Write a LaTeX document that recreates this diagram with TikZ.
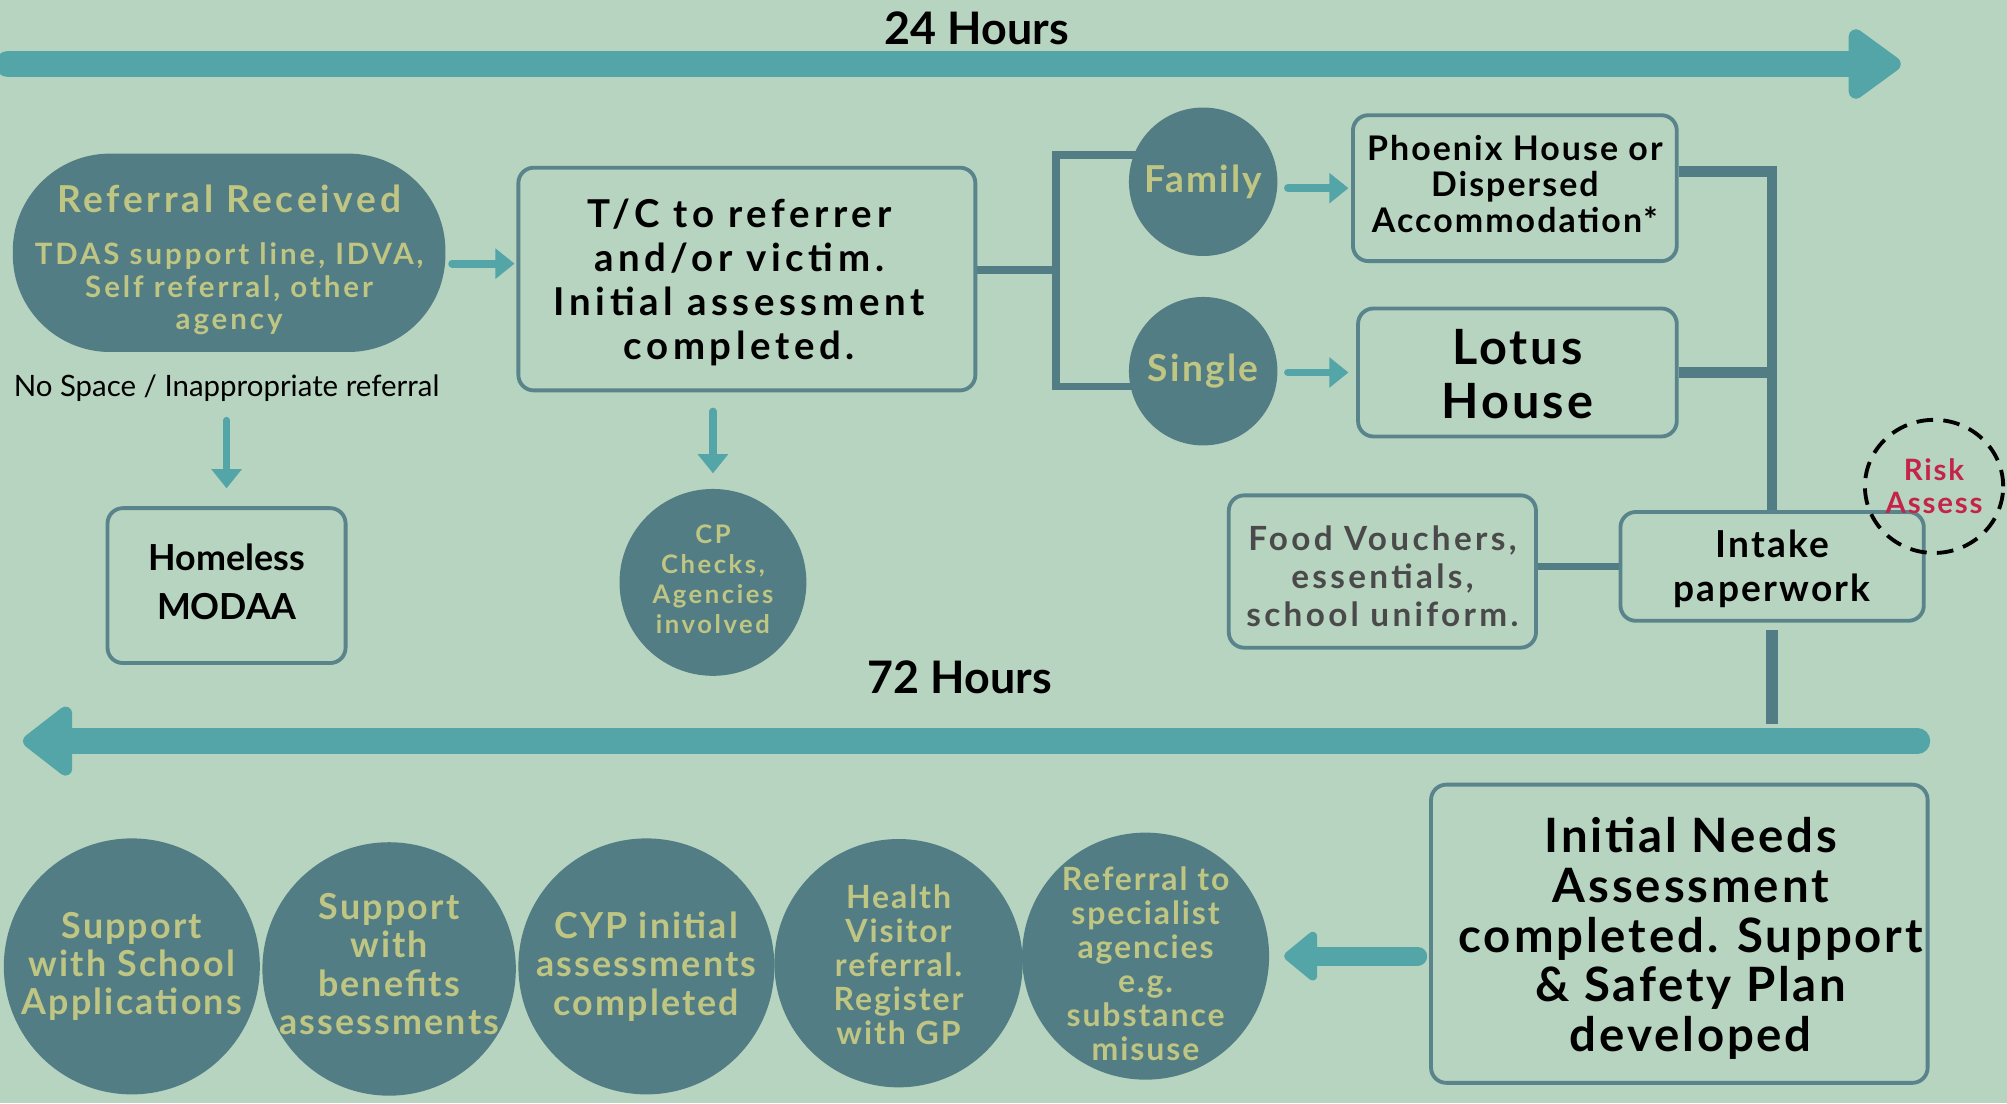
\documentclass[tikz,border=0pt]{standalone}
\usepackage{fontspec}
\setmainfont{Lato}
\newfontfamily\lsa[LetterSpace=6]{Lato}
\newfontfamily\lsb[LetterSpace=10]{Lato}
\newfontfamily\lsc[LetterSpace=12]{Lato}
\usetikzlibrary{arrows.meta,shapes.geometric,calc}
\definecolor{bgc}{HTML}{B6D4BF}
\definecolor{dteal}{HTML}{537D84}
\definecolor{khaki}{HTML}{BFC582}
\definecolor{lteal}{HTML}{54A5A7}
\definecolor{boxc}{HTML}{5A848C}
\definecolor{riskc}{HTML}{C4244A}
\definecolor{greyt}{HTML}{4A4A4A}
% push a block of lines down (strut on first line) or up (depth on last line)
\newcommand\dnby[1]{\rule{0pt}{\dimexpr\fontcharht\font`\l+#1\relax}}
\newcommand\upby[1]{\rule[-#1]{0pt}{0pt}}
% shift a centred line sideways by half the argument
\newcommand\xs[1]{\hspace*{#1}}
\pgfdeclarelayer{background}
\pgfsetlayers{background,main}
\begin{document}
\begin{tikzpicture}[x=1pt,y=-1pt,
  box/.style={draw=boxc, line width=3pt, rounded corners=12pt, align=center, inner sep=0pt, text=black},
  dc/.style={circle, fill=dteal, inner sep=-25pt, align=center, text=khaki},
  conn/.style={draw=dteal, line width=6pt},
  tarr/.style={draw=lteal, line width=6pt, line cap=round, -{Triangle[length=15pt,width=23pt]}},
  bigarr/.style={draw=lteal, line cap=round},
  hours/.style={font=\bfseries\fontsize{35}{40}\selectfont, inner sep=0pt}
]
\useasboundingbox (0,0) rectangle (1568,862);
\begin{pgfonlayer}{background}
\fill[bgc] (0,0) rectangle (1568,862);
\end{pgfonlayer}

% timelines
\coordinate (t1) at (6,50);
\coordinate (t2) at (1485,50);
\draw[bigarr, line width=20pt, -{Triangle[length=45pt,width=62pt,round]}] (t1) -- (t2);
\node[hours] (h24) at (763,22) {24 Hours};

\coordinate (b1) at (1498,579);
\coordinate (b2) at (18,579);
\draw[bigarr, line width=20pt, -{Triangle[length=42pt,width=62pt,round]}] (b1) -- (b2);
\node[hours] (h72) at (750,529) {72 Hours};

% first row
\node[rectangle, rounded corners=76pt, fill=dteal, minimum width=338pt, minimum height=155pt,
      align=center, text=khaki, inner sep=0pt,
      font=\lsb\bfseries\fontsize{23}{25.5}\selectfont] (ref) at (179,197.5)
  {{\fontsize{29}{30}\selectfont\dnby{12pt}Referral Received}\\[15pt]TDAS support line, IDVA,\\Self referral, other\\agency};

\node[box, minimum width=357pt, minimum height=174pt,
      font=\lsc\bfseries\fontsize{30}{34.4}\selectfont] (tc) at (583.5,218)
  {\dnby{6pt}\xs{-12pt}T/C to referrer\\\xs{-12pt}and/or victim.\\\xs{-12pt}Initial assessment\\\xs{-12pt}completed.};

\node[inner sep=0pt, font=\fontsize{23}{25}\selectfont] (nosp) at (177,303)
  {No Space / Inappropriate referral};

\node[box, minimum width=186pt, minimum height=121pt,
      font=\bfseries\fontsize{28}{38}\selectfont] (home) at (177,457.5)
  {Homeless\\MODAA\upby{6pt}};

\node[dc, minimum size=146pt, font=\lsb\bfseries\fontsize{20}{23.5}\selectfont] (cp) at (557,455)
  {CP\\Checks,\\Agencies\\involved\upby{5pt}};

\node[dc, minimum size=116pt, font=\lsa\bfseries\fontsize{29}{30}\selectfont] (fam) at (940,142) {Family\upby{2pt}};
\node[dc, minimum size=116pt, font=\lsa\bfseries\fontsize{29}{30}\selectfont] (sing) at (940,290) {Single};

\node[box, minimum width=253pt, minimum height=114pt,
      font=\lsa\bfseries\fontsize{26.5}{28}\selectfont] (ph) at (1183.5,147)
  {Phoenix House or\\Dispersed\\Accommodation*\upby{7pt}};

\node[box, minimum width=249pt, minimum height=100pt,
      font=\lsa\bfseries\fontsize{38}{42}\selectfont] (lot) at (1185.5,291)
  {\dnby{3pt}Lotus\\House};

\node[box, minimum width=240pt, minimum height=119pt, text=greyt,
      font=\lsb\bfseries\fontsize{26}{30}\selectfont] (food) at (1080,446.5)
  {\dnby{8pt}Food Vouchers,\\essentials,\\school uniform.};

\node[box, minimum width=237pt, minimum height=85pt,
      font=\lsa\bfseries\fontsize{29}{34}\selectfont] (intake) at (1384.5,442.5)
  {\dnby{4pt}Intake\\paperwork};

\node[ellipse, draw=black, dashed, dash pattern=on 13pt off 8pt, line width=3pt,
      minimum width=108pt, minimum height=104pt, inner sep=-14pt, align=center, text=riskc,
      font=\lsa\bfseries\fontsize{23}{26}\selectfont] (risk) at (1511,380)
  {Risk\\Assess};

\node[box, minimum width=388pt, minimum height=233pt,
      font=\lsa\bfseries\fontsize{37}{39}\selectfont] (ini) at (1312,729.5)
  {\dnby{8pt}\xs{18pt}Initial Needs\\\xs{18pt}Assessment\\\xs{18pt}completed. Support\\\xs{18pt}\& Safety Plan\\\xs{18pt}developed};

% bottom circles
\node[dc, minimum size=200pt, font=\lsa\bfseries\fontsize{28}{30}\selectfont] (c1) at (103,755)
  {Support\\with School\\Applications};
\node[dc, minimum size=198pt, font=\lsa\bfseries\fontsize{28}{30}\selectfont] (c2) at (304,757)
  {Support\\with\\benefits\\assessments\upby{8pt}};
\node[dc, minimum size=200pt, font=\lsa\bfseries\fontsize{28}{30}\selectfont] (c3) at (505,755)
  {CYP initial\\assessments\\completed};
\node[dc, minimum size=194pt, font=\lsa\bfseries\fontsize{25}{26.5}\selectfont] (c4) at (702,752.5)
  {\dnby{3pt}Health\\Visitor\\referral.\\Register\\with GP};
\node[dc, minimum size=193pt, font=\lsa\bfseries\fontsize{25}{26.5}\selectfont] (c5) at (895,747)
  {\dnby{12pt}Referral to\\specialist\\agencies\\e.g.\\substance\\misuse};

% arrows
\coordinate (ya) at (0,206);
\draw[tarr, shorten <=5pt, shorten >=1.5pt] (ref.east |- ya) -- (tc.west |- ya);
\draw[tarr, shorten <=15pt, shorten >=14pt] (nosp.south) -- (home.north);
\draw[tarr, shorten <=15pt, shorten >=12pt] (tc.south -| cp.north) -- (cp.north);
\draw[tarr, shorten <=8pt, shorten >=2pt] (ph.west -| fam.east) -- (ph.west);
\draw[tarr, shorten <=8pt, shorten >=6pt] (lot.west -| sing.east) -- (lot.west);
\draw[bigarr, line width=15pt, shorten <=9pt, shorten >=11.5pt, -{Triangle[length=28pt,width=44pt,round]}]
  ([yshift=-17.5pt]ini.west) -- ([yshift=-17.5pt]ini.west -| c5.east);

% connectors
\coordinate (jt) at (825,121);
\coordinate (jb) at (825,302);
\coordinate (ib) at (1389,566);
\begin{pgfonlayer}{background}
\draw[conn] ([yshift=7pt]tc.east) -- ([yshift=7pt]tc.east -| jt);
\draw[conn] (jt -| fam.center) -- (jt) -- (jb) -- (jb -| sing.center);
\draw[conn, line width=8pt] ([yshift=13pt]ph.east) -- ([yshift=13pt]ph.east -| intake.north) -- (intake.north);
\draw[conn, line width=8pt] (lot.east) -- (lot.east -| intake.north);
\draw[conn] (intake.west) -- (intake.west -| food.east);
\draw[conn, line width=9pt] ([yshift=-6pt]intake.south) -- (intake.south |- ib);
\end{pgfonlayer}
\end{tikzpicture}
\end{document}
